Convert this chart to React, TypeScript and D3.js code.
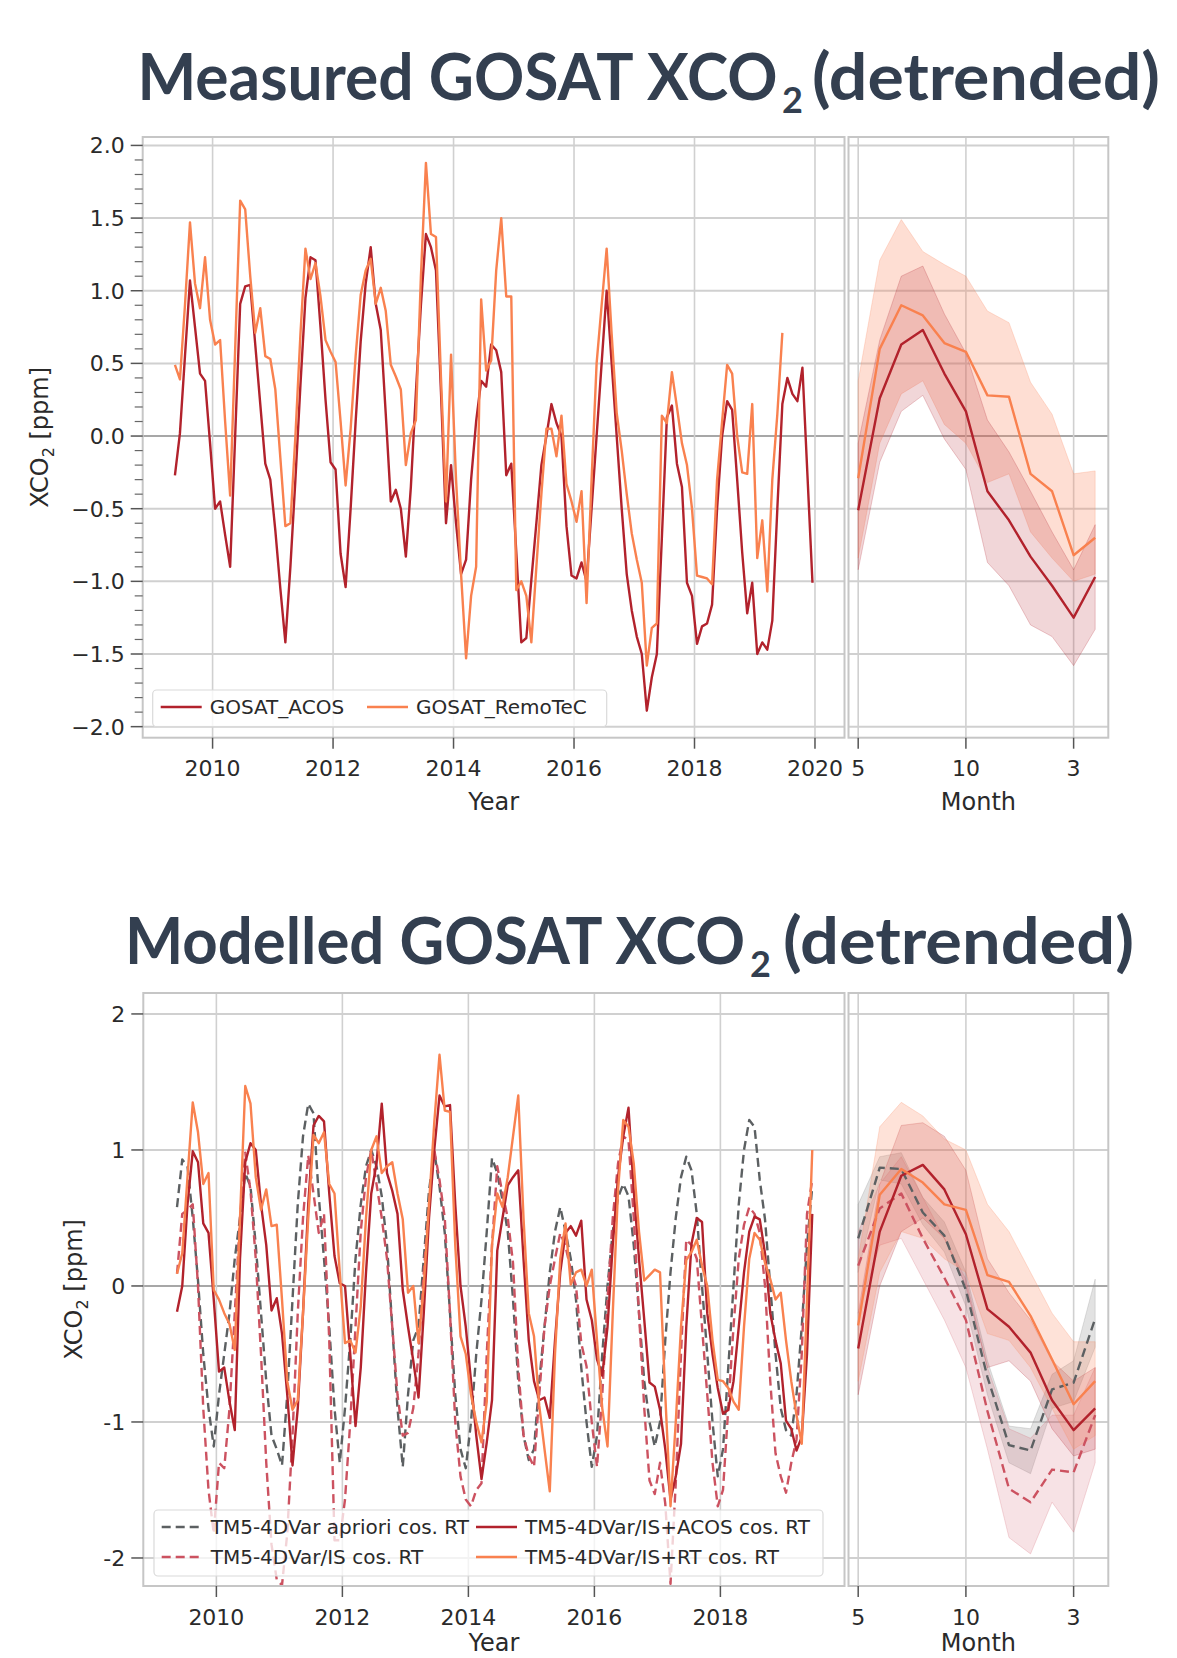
import React from 'react';
import * as d3 from 'd3';

// ---------- data ----------
// monthly values, first point = May 2009
const acosMeasured = [
  -0.27, 0.02, 0.55, 1.07, 0.75, 0.43, 0.38, -0.05, -0.5, -0.45,
  -0.68, -0.9, 0.0, 0.91, 1.03, 1.04, 0.63, 0.22, -0.19, -0.3,
  -0.65, -1.05, -1.42, -0.9, -0.3, 0.35, 0.95, 1.23, 1.21, 0.75,
  0.25, -0.18, -0.23, -0.81, -1.04, -0.5, 0.1, 0.65, 1.05, 1.3,
  0.91, 0.73, 0.15, -0.45, -0.37, -0.5, -0.83, -0.35, 0.3, 0.9,
  1.39, 1.3, 1.14, 0.3, -0.6, -0.2, -0.6, -0.95, -0.85, -0.3,
  0.1, 0.38, 0.34, 0.63, 0.59, 0.44, -0.27, -0.19, -0.8, -1.42,
  -1.39, -0.99, -0.6, -0.2, 0.0, 0.22, 0.09, 0.0, -0.62, -0.96,
  -0.98, -0.87, -1.0, -0.5, 0.0, 0.5, 1.0, 0.5, 0.0, -0.5,
  -0.95, -1.2, -1.38, -1.5, -1.89, -1.66, -1.5, -0.7, 0.13, 0.21,
  -0.19, -0.35, -1.01, -1.1, -1.43, -1.31, -1.29, -1.16, -0.5, 0.0,
  0.24, 0.18, -0.3, -0.8, -1.22, -1.01, -1.5, -1.42, -1.47, -1.27,
  -0.5, 0.22, 0.4, 0.29, 0.24, 0.47, -0.27, -1.01,
];
const remotecMeasured = [
  0.49, 0.39, 0.9, 1.47, 1.05, 0.88, 1.23, 0.8, 0.63, 0.66,
  0.1, -0.41, 0.6, 1.62, 1.56, 1.1, 0.71, 0.88, 0.55, 0.53,
  0.32, -0.15, -0.62, -0.6, 0.0, 0.7, 1.29, 1.08, 1.19, 0.96,
  0.66, 0.58, 0.51, 0.1, -0.34, 0.05, 0.55, 0.97, 1.14, 1.22,
  0.91, 1.02, 0.86, 0.49, 0.41, 0.32, -0.2, 0.02, 0.11, 1.1,
  1.88, 1.39, 1.37, 0.4, -0.45, 0.56, -0.3, -0.95, -1.53, -1.1,
  -0.9, 0.94, 0.45, 0.52, 1.14, 1.5, 0.96, 0.96, -1.06, -1.0,
  -1.1, -1.42, -0.9, -0.4, 0.05, 0.05, -0.14, 0.14, -0.33, -0.45,
  -0.59, -0.38, -1.15, -0.3, 0.5, 0.9, 1.29, 0.7, 0.16, -0.1,
  -0.4, -0.67, -0.85, -1.01, -1.58, -1.32, -1.29, 0.14, 0.09, 0.44,
  0.2, -0.05, -0.2, -0.5, -0.96, -0.97, -0.98, -1.02, -0.3, 0.1,
  0.49, 0.43, 0.0, -0.25, -0.26, 0.22, -0.84, -0.58, -1.07, -0.3,
  0.15, 0.71,
];

const aprioriModel = [
  0.58, 0.93, 0.88, 0.5, 0.04, -0.5, -0.9, -1.18, -0.8, -0.5,
  -0.2, 0.2, 0.5, 0.83, 0.73, 0.3, -0.2, -0.7, -1.1, -1.2,
  -1.32, -0.8, -0.1, 0.6, 1.1, 1.34, 1.27, 0.66, 0.2, -0.3,
  -0.9, -1.3, -0.9, -0.4, 0.2, 0.6, 0.88, 1.0, 0.88, 0.66,
  0.3, -0.3, -0.9, -1.33, -0.8, -0.4, -0.3, 0.2, 0.7, 0.99,
  0.73, 0.39, -0.2, -0.8, -1.2, -1.34, -1.0, -0.5, -0.1, 0.4,
  0.94, 0.83, 0.63, 0.4, -0.1, -0.7, -1.1, -1.28, -1.2, -0.7,
  -0.3, 0.1, 0.4, 0.58, 0.4, 0.2, -0.1, -0.6, -1.0, -1.33,
  -1.1, -0.5, 0.0, 0.4, 0.65, 0.75, 0.66, 0.3, -0.2, -0.7,
  -1.0, -1.18, -1.0, -0.4, 0.1, 0.5, 0.8, 0.95, 0.85, 0.53,
  0.0, -0.5, -1.0, -1.4, -1.2, -0.6, 0.0, 0.6, 1.0, 1.22,
  1.17, 0.78, 0.49, 0.0, -0.5, -0.9, -1.06, -1.1, -0.8, -0.3,
  0.3, 0.73,
];
const isModel = [
  0.09, 0.53, 0.56, 0.6, 0.0, -0.9, -1.5, -1.82, -1.3, -1.34,
  -0.9, -0.2, 0.5, 0.98, 0.7, 0.2, -0.5, -1.3, -1.9, -2.16,
  -2.2, -1.82, -1.1, -0.2, 0.5, 0.96, 0.68, 0.39, 0.53, -0.4,
  -1.87, -1.87, -1.57, -1.0, -0.3, 0.4, 0.8, 1.0, 0.75, 0.5,
  0.2, -0.3, -0.8, -1.1, -1.08, -0.9, -0.5, 0.1, 0.6, 1.0,
  0.78, 0.5, -0.2, -1.0, -1.4, -1.57, -1.62, -1.5, -1.45, -0.5,
  0.3, 0.88, 0.68, 0.5, 0.17, -0.6, -1.1, -1.25, -1.33, -0.8,
  -0.3, 0.0, 0.2, 0.39, 0.29, 0.12, 0.0, -0.42, -0.59, -1.0,
  -1.33, -0.8, -0.1, 0.5, 0.9, 1.1, 1.07, 0.5, -0.2, -0.9,
  -1.43, -1.53, -1.3, -1.6, -2.19, -1.45, -0.5, 0.34, 0.3, 0.2,
  -0.3, -0.8, -1.3, -1.62, -1.5, -0.9, -0.3, 0.2, 0.45, 0.58,
  0.53, 0.39, 0.0, -0.7, -1.23, -1.4, -1.52, -1.3, -1.13, -0.5,
  0.53, 0.78,
];
const isAcosModel = [
  -0.19, 0.0, 0.6, 0.99, 0.91, 0.46, 0.39, -0.1, -0.63, -0.6,
  -0.85, -1.06, 0.2, 0.91, 1.05, 1.0, 0.6, 0.3, -0.18, -0.09,
  -0.35, -0.8, -1.32, -0.9, -0.2, 0.6, 1.18, 1.25, 1.21, 0.68,
  0.22, 0.02, 0.0, -0.5, -1.03, -0.6, 0.1, 0.68, 0.9, 1.34,
  0.83, 0.7, 0.53, -0.03, -0.3, -0.55, -0.82, -0.2, 0.5, 1.0,
  1.4, 1.32, 1.33, 0.6, 0.0, -0.3, -0.7, -1.1, -1.42, -1.15,
  -0.84, 0.26, 0.5, 0.74, 0.8, 0.85, 0.2, -0.4, -0.7, -0.84,
  -0.82, -0.97, -0.4, 0.1, 0.39, 0.44, 0.37, 0.48, -0.1, -0.25,
  -0.54, -0.66, -0.3, 0.3, 0.8, 1.1, 1.31, 0.7, 0.2, -0.25,
  -0.71, -0.74, -0.91, -1.2, -1.57, -1.4, -1.16, -0.3, 0.31, 0.5,
  0.47, -0.2, -0.5, -0.75, -0.94, -0.91, -0.7, -0.3, 0.1, 0.4,
  0.51, 0.49, 0.24, -0.2, -0.4, -0.57, -0.99, -1.05, -1.21, -1.11,
  -0.5, 0.53,
];
const isRtModel = [
  0.09, 0.24, 0.8, 1.35, 1.13, 0.75, 0.83, -0.03, -0.1, -0.2,
  -0.28, -0.47, 0.5, 1.47, 1.34, 0.8, 0.56, 0.71, 0.44, 0.45,
  -0.1, -0.7, -0.91, -0.84, -0.2, 0.5, 1.11, 1.05, 1.13, 0.75,
  0.68, 0.1, -0.42, -0.4, -0.49, -0.15, 0.5, 1.0, 1.1, 0.83,
  0.88, 0.91, 0.68, 0.49, -0.05, 0.0, -0.42, 0.0, 0.6, 1.2,
  1.7, 1.29, 1.28, 0.3, -0.37, -0.5, -0.8, -1.0, -1.15, -0.85,
  0.3, 0.68, 0.58, 0.8, 1.1, 1.4, 0.5, -0.2, -0.37, -0.88,
  -1.2, -1.51, -0.5, 0.2, 0.46, 0.01, 0.1, 0.12, 0.0, 0.12,
  -0.4, -0.9, -1.18, -0.2, 0.7, 1.22, 1.17, 0.9, 0.4, 0.04,
  0.08, 0.12, 0.1, -0.8, -1.62, -1.0, -0.3, 0.19, 0.25, 0.34,
  0.15, 0.0, -0.4, -0.69, -0.7, -0.75, -0.85, -0.91, -0.3, 0.2,
  0.39, 0.34, 0.17, 0.05, -0.1, -0.05, -0.4, -0.7, -0.95, -1.16,
  -0.1, 1.0,
];

// mean seasonal cycle, May (5) .. April (16)
const seasonMonths = [5, 6, 7, 8, 9, 10, 11, 12, 13, 14, 15, 16];
const acosSeason = [-0.51, 0.26, 0.63, 0.73, 0.43, 0.17, -0.38, -0.58, -0.83, -1.03, -1.25, -0.97];
const acosSeasonLo = [-0.92, -0.18, 0.17, 0.28, -0.02, -0.23, -0.87, -1.03, -1.3, -1.38, -1.58, -1.33];
const acosSeasonHi = [-0.05, 0.66, 1.1, 1.17, 0.84, 0.57, 0.11, -0.11, -0.38, -0.66, -0.92, -0.61];
const remotecSeason = [-0.29, 0.6, 0.9, 0.83, 0.64, 0.58, 0.28, 0.27, -0.26, -0.38, -0.82, -0.7];
const remotecSeasonLo = [-0.84, -0.05, 0.29, 0.38, 0.08, -0.05, -0.32, -0.26, -0.66, -0.84, -1.0, -0.95];
const remotecSeasonHi = [0.38, 1.21, 1.49, 1.27, 1.18, 1.1, 0.86, 0.78, 0.37, 0.15, -0.26, -0.24];

const aprioriSeason = [0.35, 0.87, 0.86, 0.54, 0.37, -0.03, -0.67, -1.17, -1.21, -0.76, -0.71, -0.24];
const aprioriSeasonLo = [0.1, 0.78, 0.75, 0.45, 0.25, -0.15, -0.8, -1.3, -1.38, -0.9, -0.85, -0.45];
const aprioriSeasonHi = [0.6, 0.95, 0.98, 0.65, 0.47, 0.1, -0.55, -1.03, -1.05, -0.65, -0.55, 0.05];
const isSeason = [0.15, 0.57, 0.68, 0.35, 0.06, -0.25, -0.92, -1.49, -1.59, -1.35, -1.37, -0.95];
const isSeasonLo = [-0.2, 0.3, 0.35, 0.05, -0.25, -0.6, -1.2, -1.85, -1.97, -1.59, -1.81, -1.3];
const isSeasonHi = [0.4, 0.75, 0.95, 0.65, 0.35, 0.05, -0.6, -1.05, -1.12, -0.95, -0.95, -0.6];
const isAcosSeason = [-0.46, 0.4, 0.81, 0.89, 0.71, 0.38, -0.17, -0.3, -0.49, -0.84, -1.06, -0.9];
const isAcosSeasonLo = [-0.8, 0.0, 0.4, 0.5, 0.35, 0.0, -0.6, -0.55, -0.7, -1.05, -1.25, -1.2];
const isAcosSeasonHi = [-0.2, 0.75, 1.18, 1.2, 1.1, 0.85, 0.2, -0.05, -0.25, -0.55, -0.7, -0.6];
const isRtSeason = [-0.29, 0.67, 0.86, 0.76, 0.6, 0.56, 0.08, 0.03, -0.22, -0.54, -0.87, -0.7];
const isRtSeasonLo = [-0.7, 0.1, 0.4, 0.35, 0.2, 0.1, -0.35, -0.4, -0.6, -0.9, -1.2, -1.1];
const isRtSeasonHi = [0.2, 1.17, 1.35, 1.25, 1.08, 1.0, 0.6, 0.4, 0.1, -0.2, -0.41, -0.41];

// ticks
const topYTicks = [-2, -1.5, -1, -0.5, 0, 0.5, 1, 1.5, 2];
const topYMinor = d3.range(-20, 21).filter(k => k % 5 !== 0).map(k => k / 10);
const botYTicks = [-2, -1, 0, 1, 2];
const botYLabels = ['-2', '-1', '0', '1', '2'];
const topYearTicks = [2010, 2012, 2014, 2016, 2018, 2020];
const botYearTicks = [2010, 2012, 2014, 2016, 2018];
const monthTicks = [5, 10, 15];
const monthTickLabels = ['5', '10', '3'];

// ---------- style ----------
const ACOS = '#b2222c';
const RT = '#f9814f';
const APRIORI = '#5c6062';
const IS = '#cc5260';
const GRID = '#d0d0d0';
const FRAME = '#c6c6c6';
const INK = '#2a2a2a';
const AXIS_FONT = "'DejaVu Sans', sans-serif";
const TITLE_FONT = "Lato, 'Open Sans', sans-serif";

const yearOf = (i: number) => 2009 + (4.5 + i) / 12;

function Block({ g, yScale, yearScale, yTicks, yLabels, minor, yearTicks, lines, seasonBands, seasonLines, id }: any) {
  const mX = d3.scaleLinear().domain([4.55, 16.61]).range([g.rLeft, g.rRight]);
  const ts = d3.line<number>().x((_, i) => yearScale(yearOf(i))).y(d => yScale(d));
  const sl = d3.line<number>().x((_, i) => mX(seasonMonths[i])).y(d => yScale(d));
  const sa = (lo: number[], hi: number[]) =>
    d3.area<number>().x((_, i) => mX(seasonMonths[i])).y0((_, i) => yScale(lo[i])).y1(d => yScale(d))(hi);
  return (
    <g>
      <defs>
        <clipPath id={id + 'L'}><rect x={g.left} y={g.top} width={g.right - g.left} height={g.bottom - g.top} /></clipPath>
        <clipPath id={id + 'R'}><rect x={g.rLeft} y={g.top} width={g.rRight - g.rLeft} height={g.bottom - g.top} /></clipPath>
      </defs>
      {/* grid */}
      {yTicks.map((t: number) => (
        <g key={'h' + t}>
          <line x1={g.left} x2={g.right} y1={yScale(t)} y2={yScale(t)} stroke={t === 0 ? '#8a8a8a' : GRID} strokeWidth={t === 0 ? 1.6 : 2} />
          <line x1={g.rLeft} x2={g.rRight} y1={yScale(t)} y2={yScale(t)} stroke={t === 0 ? '#8a8a8a' : GRID} strokeWidth={t === 0 ? 1.6 : 2} />
        </g>
      ))}
      {yearTicks.map((t: number) => (
        <line key={'v' + t} x1={yearScale(t)} x2={yearScale(t)} y1={g.top} y2={g.bottom} stroke={GRID} strokeWidth={1.6} />
      ))}
      {monthTicks.map(t => (
        <line key={'m' + t} x1={mX(t)} x2={mX(t)} y1={g.top} y2={g.bottom} stroke={GRID} strokeWidth={1.6} />
      ))}
      {/* series */}
      <g clipPath={`url(#${id}L)`}>
        {lines.map((s: any, k: number) => (
          <path key={k} d={ts(s.values) || ''} fill="none" stroke={s.color} strokeWidth={2.4}
            strokeDasharray={s.dash} strokeLinejoin="round" />
        ))}
      </g>
      <g clipPath={`url(#${id}R)`}>
        {seasonBands.map((b: any, k: number) => (
          <path key={k} d={sa(b.lo, b.hi) || ''} fill={b.color} fillOpacity={b.opacity} stroke={b.color} strokeOpacity={0.25} />
        ))}
        {seasonLines.map((s: any, k: number) => (
          <path key={k} d={sl(s.values) || ''} fill="none" stroke={s.color} strokeWidth={2.4}
            strokeDasharray={s.dash} strokeLinejoin="round" />
        ))}
      </g>
      {/* frames */}
      <rect x={g.left} y={g.top} width={g.right - g.left} height={g.bottom - g.top} fill="none" stroke={FRAME} strokeWidth={2} />
      <rect x={g.rLeft} y={g.top} width={g.rRight - g.rLeft} height={g.bottom - g.top} fill="none" stroke={FRAME} strokeWidth={2} />
      {/* y axis */}
      {yTicks.map((t: number, k: number) => (
        <g key={'yt' + t}>
          <line x1={g.left - 12} x2={g.left} y1={yScale(t)} y2={yScale(t)} stroke="#555" strokeWidth={1.5} />
          <text x={g.left - 18} y={yScale(t)} dy="0.36em" textAnchor="end" fontSize={22} fill={INK} fontFamily={AXIS_FONT}>{yLabels[k]}</text>
        </g>
      ))}
      {minor.map((t: number) => (
        <line key={'mn' + t} x1={g.left - 8} x2={g.left} y1={yScale(t)} y2={yScale(t)} stroke="#666" strokeWidth={1.2} />
      ))}
      {/* x axes */}
      {yearTicks.map((t: number) => (
        <g key={'xt' + t}>
          <line x1={yearScale(t)} x2={yearScale(t)} y1={g.bottom} y2={g.bottom + 11} stroke="#555" strokeWidth={1.5} />
          <text x={yearScale(t)} y={g.tickY} textAnchor="middle" fontSize={22} fill={INK} fontFamily={AXIS_FONT}>{t}</text>
        </g>
      ))}
      {monthTicks.map((t, k) => (
        <g key={'mt' + t}>
          <line x1={mX(t)} x2={mX(t)} y1={g.bottom} y2={g.bottom + 11} stroke="#555" strokeWidth={1.5} />
          <text x={mX(t)} y={g.tickY} textAnchor="middle" fontSize={22} fill={INK} fontFamily={AXIS_FONT}>{monthTickLabels[k]}</text>
        </g>
      ))}
      <text x={(g.left + g.right) / 2} y={g.labelY} textAnchor="middle" fontSize={24} fill={INK} fontFamily={AXIS_FONT}>Year</text>
      <text x={(g.rLeft + g.rRight) / 2} y={g.labelY} textAnchor="middle" fontSize={24} fill={INK} fontFamily={AXIS_FONT}>Month</text>
      <text transform={`translate(${g.yLabelX},${(g.top + g.bottom) / 2}) rotate(-90)`} textAnchor="middle"
        fontSize={24} fill={INK} fontFamily={AXIS_FONT}>
        XCO<tspan dy={6} fontSize={16}>2</tspan><tspan dy={-6}> [ppm]</tspan>
      </text>
    </g>
  );
}

function LegendItem({ x, y, color, dash, label }: any) {
  return (
    <g>
      <line x1={x} x2={x + 41} y1={y} y2={y} stroke={color} strokeWidth={2.4} strokeDasharray={dash} />
      <text x={x + 49} y={y} dy="0.36em" fontSize={20} fill={INK} fontFamily={AXIS_FONT}>{label}</text>
    </g>
  );
}

function Title({ x0, y, main, mainLen, subX, parenX, parenLen }: any) {
  return (
    <text y={y} fontFamily={TITLE_FONT} fontWeight={700} fill="#333f50" fontSize={65}>
      <tspan x={x0} textLength={mainLen} lengthAdjust="spacingAndGlyphs">{main}</tspan>
      <tspan x={subX} y={y + 13} fontSize={36}>2</tspan>
      <tspan x={parenX} y={y} textLength={parenLen} lengthAdjust="spacingAndGlyphs">(detrended)</tspan>
    </text>
  );
}

export default function App() {
  const topG = { left: 142.7, right: 844.5, rLeft: 848.5, rRight: 1108.3, top: 137, bottom: 737.7, tickY: 776, labelY: 810, yLabelX: 48 };
  const botG = { left: 143.3, right: 844.5, rLeft: 848.5, rRight: 1108.3, top: 993, bottom: 1586, tickY: 1625, labelY: 1651, yLabelX: 82 };

  const topY = d3.scaleLinear().domain([-2.076, 2.058]).range([topG.bottom, topG.top]);
  const topYear = d3.scaleLinear().domain([2008.84, 2020.49]).range([topG.left, topG.right]);
  const botY = d3.scaleLinear().domain([-2.206, 2.154]).range([botG.bottom, botG.top]);
  const botYear = d3.scaleLinear().domain([2008.84, 2019.97]).range([botG.left, botG.right]);
  const fmt = d3.format('.1f');

  const dash = '9 5';

  return (
    <svg width={1177} height={1658} style={{ position: 'absolute', left: 0, top: 0, background: '#fff' }}>
      <rect width={1177} height={1658} fill="#fff" />

      <Title x0={137.5} y={100} main="Measured GOSAT XCO" mainLen={640} subX={782} parenX={812} parenLen={348} />
      <Title x0={125} y={964} main="Modelled GOSAT XCO" mainLen={620} subX={750} parenX={783} parenLen={351} />

      <Block id="top" g={topG} yScale={topY} yearScale={topYear}
        yTicks={topYTicks} yLabels={topYTicks.map(fmt)} minor={topYMinor} yearTicks={topYearTicks}
        lines={[{ values: acosMeasured, color: ACOS }, { values: remotecMeasured, color: RT }]}
        seasonBands={[
          { lo: remotecSeasonLo, hi: remotecSeasonHi, color: '#fb8a62', opacity: 0.28 },
          { lo: acosSeasonLo, hi: acosSeasonHi, color: '#b8303c', opacity: 0.2 },
        ]}
        seasonLines={[{ values: acosSeason, color: ACOS }, { values: remotecSeason, color: RT }]} />

      <g>
        <rect x={152.7} y={690} width={454} height={36.7} rx={4} fill="#fff" fillOpacity={0.8} stroke="#dadada" strokeWidth={1.2} />
        <LegendItem x={160.7} y={707} color={ACOS} label="GOSAT_ACOS" />
        <LegendItem x={367} y={707} color={RT} label="GOSAT_RemoTeC" />
      </g>

      <Block id="bot" g={botG} yScale={botY} yearScale={botYear}
        yTicks={botYTicks} yLabels={botYLabels} minor={[]} yearTicks={botYearTicks}
        lines={[
          { values: aprioriModel, color: APRIORI, dash },
          { values: isModel, color: IS, dash },
          { values: isAcosModel, color: ACOS },
          { values: isRtModel, color: RT },
        ]}
        seasonBands={[
          { lo: aprioriSeasonLo, hi: aprioriSeasonHi, color: '#8a8a8a', opacity: 0.25 },
          { lo: isSeasonLo, hi: isSeasonHi, color: '#d9707c', opacity: 0.2 },
          { lo: isAcosSeasonLo, hi: isAcosSeasonHi, color: '#b8303c', opacity: 0.2 },
          { lo: isRtSeasonLo, hi: isRtSeasonHi, color: '#fb8a62', opacity: 0.25 },
        ]}
        seasonLines={[
          { values: aprioriSeason, color: APRIORI, dash },
          { values: isSeason, color: IS, dash },
          { values: isAcosSeason, color: ACOS },
          { values: isRtSeason, color: RT },
        ]} />

      <g>
        <rect x={154} y={1510} width={669} height={66} rx={4} fill="#fff" fillOpacity={0.75} stroke="#dadada" strokeWidth={1.2} />
        <LegendItem x={161.7} y={1527} color={APRIORI} dash={dash} label="TM5-4DVar apriori cos. RT" />
        <LegendItem x={161.7} y={1557} color={IS} dash={dash} label="TM5-4DVar/IS cos. RT" />
        <LegendItem x={476} y={1527} color={ACOS} label="TM5-4DVar/IS+ACOS cos. RT" />
        <LegendItem x={476} y={1557} color={RT} label="TM5-4DVar/IS+RT cos. RT" />
      </g>
    </svg>
  );
}
